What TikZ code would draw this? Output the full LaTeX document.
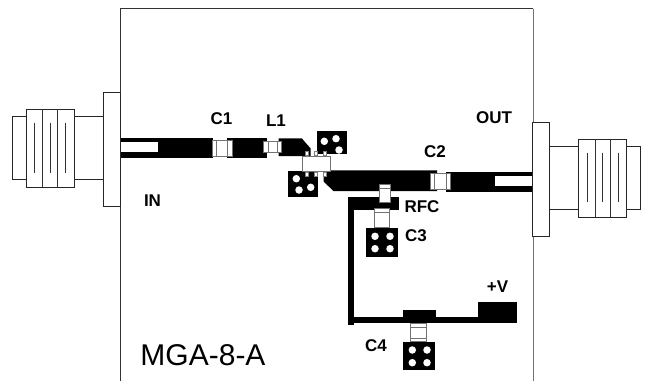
\documentclass[tikz,border=0pt]{standalone}
\usepackage{fontspec}
\setmainfont{Liberation Sans}
\tikzset{
  outline/.style={draw=black!85,line width=1pt,fill=white},
  ruleline/.style={draw=black!80,line width=1pt},
  cu/.style={fill=black,draw=none},
  hole/.style={circle,fill=white,draw=none,inner sep=0pt,minimum size=#1},
  hole/.default=7.5pt,
  part/.style={draw=black!55,line width=1pt,fill=white},
  lbl/.style={font=\bfseries\fontsize{17}{18}\selectfont,text=black,inner sep=0pt},
}
\begin{document}
\begin{tikzpicture}[x=1pt,y=-1pt]
\useasboundingbox (0,0) rectangle (645,381);
\fill[white] (0,0) rectangle (645,381);
% board
\draw[draw=black!55,line width=1pt] (533,8.5) -- (533,381);
\draw[ruleline] (120.3,381) -- (120.3,8.5) -- (533,8.5);
% left connector
\draw[outline] (12.3,116.3) rectangle (26,179.3);
\draw[outline] (74.5,116.3) rectangle (103.5,179.3);
\draw[outline] (26,109.3) rectangle (74.5,187.3);
\draw[ruleline] (42.3,109.3) -- (42.3,187.3) (57.5,109.3) -- (57.5,187.3);
\draw[ruleline] (34.7,122.7) -- (34.7,172.7) (50.3,122.7) -- (50.3,172.7) (65,122.7) -- (65,172.7);
\draw[outline] (103.5,92.7) rectangle (120.3,206.7);
% right connector
\draw[outline] (549,146) rectangle (578,209);
\draw[outline] (626.5,146) rectangle (640.5,209);
\draw[outline] (578,139.3) rectangle (626.5,217.3);
\draw[ruleline] (595.5,139.3) -- (595.5,217.3) (610.5,139.3) -- (610.5,217.3);
\draw[ruleline] (587.5,152.7) -- (587.5,202) (602,152.7) -- (602,202) (618,152.7) -- (618,202);
\draw[outline] (532.5,122.3) rectangle (549,236);
% input traces
\fill[cu] (121,137.5) rectangle (213,157.5);
\fill[white] (121,141.7) rectangle (158,152);
\fill[cu] (226.7,137.5) rectangle (267.3,157.5);
\fill[cu] (278.7,138.3) -- (301.7,138.3) -- (310.5,148.3) -- (310.5,156) -- (278.7,156) -- cycle;
% output traces
\fill[cu] (323.5,170.3) -- (437,170.3) -- (437,191) -- (333.5,191) -- (323.5,181.5) -- cycle;
\fill[cu] (446,171.5) rectangle (532,191.5);
\fill[white] (495,176) rectangle (532,186);
% bias line
\fill[cu] (348.3,197.3) rectangle (399,210);
\fill[cu] (348.3,197.3) rectangle (354.3,325);
\fill[cu] (348.3,317.3) rectangle (516.7,323.3);
\fill[cu] (403,310) rectangle (436,323.3);
\fill[cu] (478,302) rectangle (516.7,323.3);
% via pads
\fill[cu] (316.7,131) rectangle (347.3,154);
\node[hole] (h1) at (324.3,141.3) {};
\node[hole] (h2) at (336,138.7) {};
\node[hole] (h3) at (339,150) {};
\fill[cu] (288,171) rectangle (318,197.3);
\node[hole] (h4) at (296.3,178.7) {};
\node[hole] (h5) at (299,190) {};
\node[hole] (h6) at (310.7,187.3) {};
\fill[cu] (366,227.7) rectangle (398,256.7);
\foreach \hx/\hy [count=\i] in {375/236.3,390/236.3,375/248.7,390/248.7}
  \node[hole] (c3h\i) at (\hx,\hy) {};
\fill[cu] (403,341.7) rectangle (435.3,370);
\foreach \hx/\hy [count=\i] in {412.3/350,427/350,412.3/362.7,427/362.7}
  \node[hole] (c4h\i) at (\hx,\hy) {};
% C1
\draw[part] (212,140.7) rectangle (232,156.7);
\draw[part,line width=0.8pt] (216.5,140.7) -- (216.5,156.7) (227.2,140.7) -- (227.2,156.7);
% L1
\draw[part] (263.5,141.7) rectangle (281.5,152.7);
\draw[part,line width=0.8pt] (268,141.7) -- (268,152.7) (277.5,141.7) -- (277.5,152.7);
% C2
\draw[part] (430.7,173.3) rectangle (450,189.3);
\draw[part,line width=0.8pt] (434.5,173.3) -- (434.5,189.3) (446,173.3) -- (446,189.3);
% RFC
\draw[part] (379.3,184.8) rectangle (390.7,202);
\draw[part,line width=0.8pt] (379.3,188) -- (390.7,188);
% C3
\draw[part] (374.3,208.3) rectangle (389.3,227.7);
\draw[part,line width=0.8pt] (374.3,212) -- (389.3,212);
% C4
\draw[part] (410.3,323.5) rectangle (426.3,341.7);
\draw[part,line width=0.8pt] (410.3,327) -- (426.3,327) (410.3,338) -- (426.3,338);
% device
\foreach \lx/\ly [count=\i] in {306.7/151,315.5/151,325/151,306.7/172,315.5/172,325/172}
  \draw[draw=black!50,line width=0.7pt,fill=white] (\lx-1.6,\ly) rectangle (\lx+1.6,\ly+4.5);
\draw[part] (302.3,156) rectangle (330.7,171.7);
% labels
\node[lbl] (c1) at (221.5,119) {C1};
\node[lbl] (l1) at (276,121) {L1};
\node[lbl] (out) at (494,118) {OUT};
\node[lbl] (c2) at (435,152) {C2};
\node[lbl] (in) at (152.5,201) {IN};
\node[lbl] (rfc) at (422,207) {RFC};
\node[lbl] (c3) at (416,236) {C3};
\node[lbl] (pv) at (497.5,287) {+V};
\node[lbl] (c4) at (376,346) {C4};
\node[font=\fontsize{30}{32}\selectfont,inner sep=0pt] (name) at (203,355) {MGA-8-A};
\end{tikzpicture}
\end{document}
